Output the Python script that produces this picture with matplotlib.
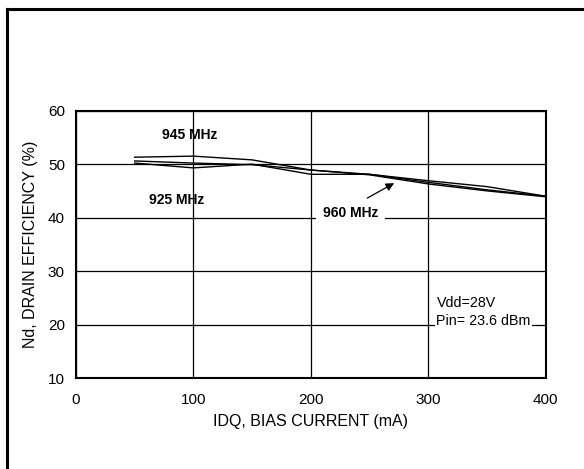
import numpy as np
import matplotlib
matplotlib.use("Agg")
import matplotlib.pyplot as plt
from matplotlib.lines import Line2D

plt.rcParams['font.family'] = ['Liberation Sans', 'DejaVu Sans']

# Bias current (mA) and drain efficiency (%)
idq = [50, 100, 150, 200, 250, 300, 350, 400]
eff_945 = [51.3, 51.5, 50.8, 48.9, 48.1, 46.9, 45.8, 44.0]
eff_925 = [50.2, 49.3, 50.0, 48.1, 48.1, 46.6, 45.2, 44.0]
eff_960 = [50.6, 50.2, 49.9, 48.9, 48.0, 46.3, 45.0, 43.9]

x_ticks = [0, 100, 200, 300, 400]
y_ticks = [10, 20, 30, 40, 50, 60]

fig = plt.figure(figsize=(5.84, 4.69), dpi=100)
ax = fig.add_axes([0.1301, 0.194, 0.8043, 0.570])

for eff in (eff_945, eff_925, eff_960):
    ax.plot(idq, eff, color='black', linewidth=1.0)

ax.set_xlim(0, 400)
ax.set_ylim(10, 60)
ax.set_xticks(x_ticks)
ax.set_yticks(y_ticks)
ax.tick_params(length=0, labelsize=11)
ax.tick_params(axis='x', pad=11)
ax.tick_params(axis='y', pad=8)
ax.grid(True, color='black', linewidth=0.9)
ax.set_axisbelow(True)
for s in ax.spines.values():
    s.set_linewidth(1.5)

ax.set_xlabel('IDQ, BIAS CURRENT (mA)', fontsize=11.5, labelpad=5)
ax.set_ylabel('Nd, DRAIN EFFICIENCY (%)', fontsize=11.5, labelpad=7)

# curve labels
ax.text(97, 55.5, '945 MHz', fontsize=10, fontweight='bold', ha='center', va='center')
ax.text(86, 43.3, '925 MHz', fontsize=10, fontweight='bold', ha='center', va='center')
ax.text(234, 40.8, '960 MHz', fontsize=10, fontweight='bold', ha='center', va='center',
        bbox=dict(facecolor='white', edgecolor='none', pad=5))
ax.annotate('', xy=(273, 46.7), xytext=(246, 43.4),
            arrowprops=dict(arrowstyle='-|>', color='black', lw=0.9, mutation_scale=12))

ax.text(307, 24.1, 'Vdd=28V', fontsize=10.3, ha='left', va='center')
ax.text(307, 20.7, 'Pin= 23.6 dBm', fontsize=10.3, ha='left', va='center',
        bbox=dict(facecolor='white', edgecolor='none', pad=1))

# outer frame (left and top edges only)
fig.add_artist(Line2D([6.5 / 584, 6.5 / 584], [0, 1 - 9 / 469], transform=fig.transFigure,
                      color='black', linewidth=2.2, solid_capstyle='projecting'))
fig.add_artist(Line2D([6.5 / 584, 1], [1 - 9 / 469, 1 - 9 / 469], transform=fig.transFigure,
                      color='black', linewidth=2.2, solid_capstyle='projecting'))

fig.savefig('out.png', dpi=100)
